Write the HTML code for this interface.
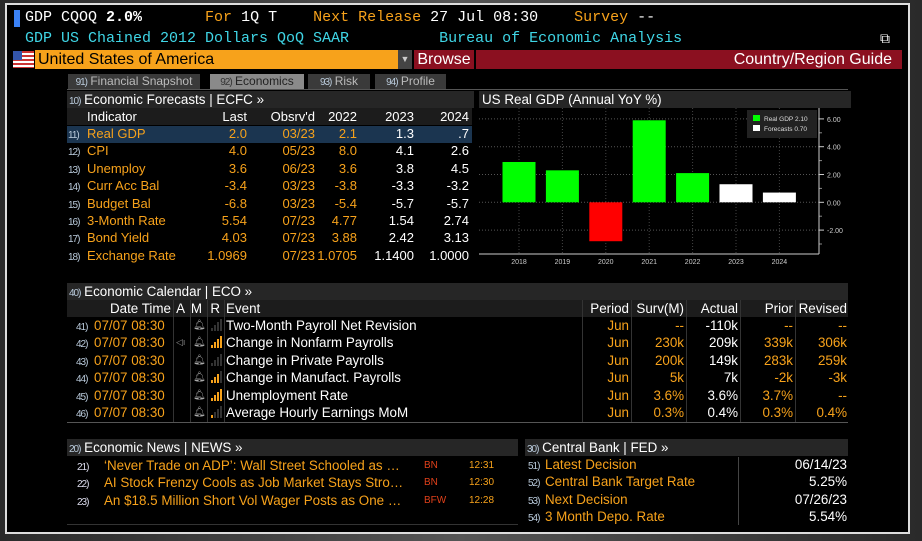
<!DOCTYPE html>
<html><head><meta charset="utf-8"><style>
body{margin:0;width:922px;height:541px;overflow:hidden;background:#3a3a3a;font-family:"Liberation Sans",sans-serif;position:relative}
.a{position:absolute;white-space:nowrap}
.o{color:#f7a21b}.w{color:#fff}.c{color:#3fd6e6}.g{color:#9aa3ad}
.mono{font-family:"Liberation Mono",monospace;font-size:15px}
.hdr{background:#262626;color:#fff;font-size:13.4px;height:17px;line-height:17px}
.n{font-size:10px;color:#bcd;letter-spacing:-1px}
.t{font-size:13.4px;line-height:17.4px}
.f{font-size:13px}
</style></head><body>
<div class="a" style="left:0;top:0;width:922px;height:541px;background:linear-gradient(90deg,#2a2a2a,#555 50%,#2a2a2a)"></div>
<div class="a" style="left:5px;top:3px;width:901px;height:527px;background:#000;border:2px solid #ddd"></div>
<div class="a" style="left:14px;top:10px;width:6px;height:17px;background:#3b82f6"></div>
<div class="a mono w" style="left:25px;top:9px;white-space:pre">GDP CQOQ <b>2.0%</b>       <span class="o">For</span> 1Q T    <span class="o">Next Release</span> 27 Jul 08:30    <span class="o">Survey</span> --</div>
<div class="a mono c" style="left:25px;top:30px;white-space:pre">GDP US Chained 2012 Dollars QoQ SAAR          Bureau of Economic Analysis</div>
<div class="a w" style="left:880px;top:30px;font-size:14px">⧉</div>
<div class="a" style="left:13px;top:51px;width:21px;height:17px;background:repeating-linear-gradient(#c33 0 2px,#fff 2px 4px)"><div style="width:9px;height:9px;background:#3355aa"></div></div>
<div class="a" style="left:35px;top:50px;width:363px;height:19px;background:#f7a21b;color:#000;font-size:16px;line-height:19px;padding-left:3px;box-sizing:border-box">United States of America</div>
<div class="a" style="left:398px;top:50px;width:14px;height:19px;background:#444;color:#ccc;font-size:9px;line-height:19px;text-align:center">▼</div>
<div class="a" style="left:414px;top:50px;width:60px;height:19px;background:#8b1020;color:#fff;font-size:16px;line-height:19px;text-align:center">Browse</div>
<div class="a" style="left:476px;top:50px;width:426px;height:19px;background:#8b1020;color:#fff;font-size:16px;line-height:19px;text-align:right;padding-right:10px;box-sizing:border-box">Country/Region Guide</div>
<div class="a" style="left:67px;top:89px;width:781px;height:1px;background:#555"></div>
<div class="a" style="left:68px;top:74px;width:132px;height:15px;background:#3a3a3a;color:#bbb;font-size:12px;line-height:15px;text-align:center"><span class="n">91)</span> Financial Snapshot</div>
<div class="a" style="left:210px;top:74px;width:94px;height:15px;background:#8a8a8a;color:#222;font-size:12px;line-height:15px;text-align:center"><span class="n" style="color:#333">92)</span> Economics</div>
<div class="a" style="left:308px;top:74px;width:62px;height:15px;background:#3a3a3a;color:#bbb;font-size:12px;line-height:15px;text-align:center"><span class="n">93)</span> Risk</div>
<div class="a" style="left:375px;top:74px;width:71px;height:15px;background:#3a3a3a;color:#bbb;font-size:12px;line-height:15px;text-align:center"><span class="n">94)</span> Profile</div>

<div class="a hdr" style="left:67px;top:91px;width:405px;padding-left:2px"><span class="n">10)</span> Economic Forecasts | ECFC »</div>
<div class="a" style="left:67px;top:108px;width:405px;height:17px;background:#1c1c1c"></div>
<div class="a" style="left:67px;top:126px;width:405px;height:17px;background:#1b3550"></div>
<div id="fc"></div>

<div class="a hdr" style="left:479px;top:91px;width:369px;padding-left:3px">US Real GDP (Annual YoY %)</div>
<svg class="a" id="chart" style="left:476px;top:108px" width="372" height="160"></svg>

<div class="a hdr" style="left:67px;top:283px;width:779px;padding-left:2px"><span class="n">40)</span> Economic Calendar | ECO »</div>
<div class="a" style="left:67px;top:300px;width:781px;height:17px;background:#1c1c1c"></div>
<div class="a" style="left:67px;top:422px;width:781px;height:1px;background:#555"></div>
<div id="cal"></div>

<div class="a hdr" style="left:67px;top:439px;width:449px;padding-left:2px"><span class="n">20)</span> Economic News | NEWS »</div>
<div class="a" style="left:67px;top:456px;width:451px;height:68px;border-bottom:1px solid #333"></div>
<div id="news"></div>

<div class="a hdr" style="left:525px;top:439px;width:321px;padding-left:2px"><span class="n">30)</span> Central Bank | FED »</div>
<div class="a" style="left:738px;top:457px;width:1px;height:68px;background:#444"></div>
<div id="cb"></div>

<script>
function put(parent,html,style,name,inter){const d=document.createElement('div');d.className='a t';d.style.cssText=style;d.innerHTML=html;


parent.appendChild(d);}
const body=document.body;
// forecasts table
const fcHead=['Indicator','Last',"Obsrv'd",'2022','2023','2024'];
const fcColR=[0,247,315,357,414,469];
const fcRows=[['Real GDP','2.0','03/23','2.1','1.3','.7'],['CPI','4.0','05/23','8.0','4.1','2.6'],['Unemploy','3.6','06/23','3.6','3.8','4.5'],['Curr Acc Bal','-3.4','03/23','-3.8','-3.3','-3.2'],['Budget Bal','-6.8','03/23','-5.4','-5.7','-5.7'],['3-Month Rate','5.54','07/23','4.77','1.54','2.74'],['Bond Yield','4.03','07/23','3.88','2.42','3.13'],['Exchange Rate','1.0969','07/23','1.0705','1.1400','1.0000']];
put(body,'Indicator','left:87px;top:108px;color:#fff;font-size:13px','fc-head-indicator');
fcHead.slice(1).forEach((h,i)=>put(body,h,`right:${922-fcColR[i+1]}px;top:108px;color:#fff;font-size:13px`,'fc-head-'+h.toLowerCase().replace(/'/g,'')));
fcRows.forEach((r,j)=>{const y=125+j*17.4;
put(body,`<span class="n">${11+j})</span>`,`left:68px;top:${y}px`,'fc-row-number',true);
put(body,r[0],`left:87px;top:${y}px;color:#f7a21b;font-size:13px`,'fc-indicator-'+j,true);
for(let k=1;k<6;k++)put(body,r[k],`right:${922-fcColR[k]}px;top:${y}px;font-size:13px;color:${k<4?'#f7a21b':'#fff'}`,'fc-value');});
// calendar
const calRows=[['Two-Month Payroll Net Revision','--','-110k','--','--',0],['Change in Nonfarm Payrolls','230k','209k','339k','306k',4],['Change in Private Payrolls','200k','149k','283k','259k',0],['Change in Manufact. Payrolls','5k','7k','-2k','-3k',3],['Unemployment Rate','3.6%','3.6%','3.7%','--',4],['Average Hourly Earnings MoM','0.3%','0.4%','0.3%','0.4%',1]];
[['Date Time',171],['A',185],['M',202],['R',220]].forEach(h=>put(body,h[0],`right:${922-h[1]}px;top:300px;color:#fff`,'cal-head'));
put(body,'Event','left:226px;top:300px;color:#fff','cal-head-event');
const calR=[629,684,738,793,847];
['Period','Surv(M)','Actual','Prior','Revised'].forEach((h,i)=>put(body,h,`right:${922-calR[i]}px;top:300px;color:#fff`,'cal-head-'+h.toLowerCase()));
[173,190,207,224,582,631,686,740,795].forEach(x=>{const d=document.createElement('div');d.className='a';d.style.cssText=`left:${x}px;top:300px;width:1px;height:122px;background:#333`;

body.appendChild(d);});
calRows.forEach((r,j)=>{const y=317+j*17.4;
put(body,`<span class="n">${41+j})</span>`,`left:76px;top:${y}px`,'cal-row-number',true);
put(body,'07/07 08:30',`left:94px;top:${y}px;color:#f7a21b`,'cal-datetime');
if(j==1)put(body,'◁ı',`left:176px;top:${y}px;color:#888;font-size:9px`,'cal-audio-icon',true);
put(body,'🔔︎',`left:193px;top:${y}px;color:#aaa;font-size:10px;filter:grayscale(1)`,'cal-alert-bell',true);
let bars='';for(let b=0;b<4;b++)bars+=`<span style="display:inline-block;width:2px;margin-right:1px;height:${3+b*3}px;background:${b<r[5]?'#f7a21b':'#333'}"></span>`;
put(body,bars,`left:211px;top:${y+2}px;line-height:12px;display:flex;align-items:flex-end;height:12px`,'cal-relevance');
put(body,r[0],`left:226px;top:${y}px;color:#fff`,'cal-event',true);
put(body,'Jun',`right:${922-calR[0]}px;top:${y}px;color:#f7a21b`,'cal-period');
[1,2,3,4].forEach(k=>put(body,r[k],`right:${922-calR[k]}px;top:${y}px;color:${k==2?'#fff':'#f7a21b'}`,'cal-value'));});
// news
const news=[['‘Never Trade on ADP’: Wall Street Schooled as …','BN','12:31'],['AI Stock Frenzy Cools as Job Market Stays Stro…','BN','12:30'],['An $18.5 Million Short Vol Wager Posts as One …','BFW','12:28']];
news.forEach((r,j)=>{const y=457+j*17.4;
put(body,`<span class="n" style="color:#dde">${21+j})</span>`,`left:77px;top:${y}px`,'news-number',true);
put(body,r[0],`left:104px;top:${y}px;color:#f7a21b`,'news-headline',true);
put(body,r[1],`left:424px;top:${y}px;color:#e0401a;font-size:10px`,'news-source');
put(body,r[2],`left:469px;top:${y}px;color:#f7a21b;font-size:10px`,'news-time');});
// central bank
const cb=[['Latest Decision','06/14/23'],['Central Bank Target Rate','5.25%'],['Next Decision','07/26/23'],['3 Month Depo. Rate','5.54%']];
cb.forEach((r,j)=>{const y=456+j*17.4;
put(body,`<span class="n">${51+j})</span>`,`left:528px;top:${y}px`,'cb-number',true);
put(body,r[0],`left:545px;top:${y}px;color:#f7a21b`,'cb-label',true);
put(body,r[1],`right:${922-847}px;top:${y}px;color:#fff`,'cb-value');});
// chart
const years=['2018','2019','2020','2021','2022','2023','2024'];
const gdp=[2.9,2.3,-2.8,5.9,2.1,1.3,0.7];
const isForecast=[false,false,false,false,false,true,true];
const yTicks=[-2,0,2,4,6];
const svg=document.getElementById('chart');const NS='http://www.w3.org/2000/svg';
const y0=94.3,py=13.9; const ys=v=>y0-v*py; const xs=i=>43+i*43.4; const axX=343;
function el(t,a,name){const e=document.createElementNS(NS,t);for(const k in a)e.setAttribute(k,a[k]);

svg.appendChild(e);return e;}
yTicks.forEach(v=>{el('line',{x1:3,x2:axX,y1:ys(v),y2:ys(v),stroke:'#555','stroke-dasharray':'1,2'},'y-gridline');
el('line',{x1:axX,x2:axX+5,y1:ys(v),y2:ys(v),stroke:'#ccc'},'y-tick');
const t=el('text',{x:axX+8,y:ys(v)+3,fill:'#ccc','font-size':'7','font-family':'Liberation Sans'},'y-tick-label');t.textContent=v.toFixed(2);});
[-3,-1,1,3,5].forEach(v=>el('line',{x1:axX,x2:axX+3,y1:ys(v),y2:ys(v),stroke:'#888'},'y-minor-tick'));
years.forEach((y,i)=>{el('line',{x1:xs(i),x2:xs(i),y1:0,y2:146,stroke:'#444','stroke-dasharray':'1,2'},'x-gridline');});
el('line',{x1:3,x2:axX,y1:146,y2:146,stroke:'#ccc'},'x-axis');
el('line',{x1:axX,x2:axX,y1:0,y2:146,stroke:'#ccc'},'y-axis');
years.forEach((y,i)=>{const v=gdp[i];const c=isForecast[i]?'#fff':(v<0?'#ff0000':'#00ff00');
el('rect',{x:xs(i)-16.5,y:Math.min(ys(v),ys(0)),width:33,height:Math.abs(ys(v)-ys(0)),fill:c},'bar-'+y);
const t=el('text',{x:xs(i),y:156,fill:'#ccc','font-size':'7','text-anchor':'middle','font-family':'Liberation Sans'},'x-tick-label');t.textContent=y;});
el('rect',{x:271,y:2,width:70,height:28,fill:'#222'},'legend-box');
el('rect',{x:277,y:7,width:7,height:6,fill:'#00ff00'},'legend-swatch-real');
el('rect',{x:277,y:17,width:7,height:6,fill:'#fff'},'legend-swatch-forecast');
let t=el('text',{x:288,y:13,fill:'#ddd','font-size':'6.5','font-family':'Liberation Sans'},'legend-entry-real');t.textContent='Real GDP   2.10';
t=el('text',{x:288,y:23,fill:'#ddd','font-size':'6.5','font-family':'Liberation Sans'},'legend-entry-forecast');t.textContent='Forecasts  0.70';
</script>
</body></html>
